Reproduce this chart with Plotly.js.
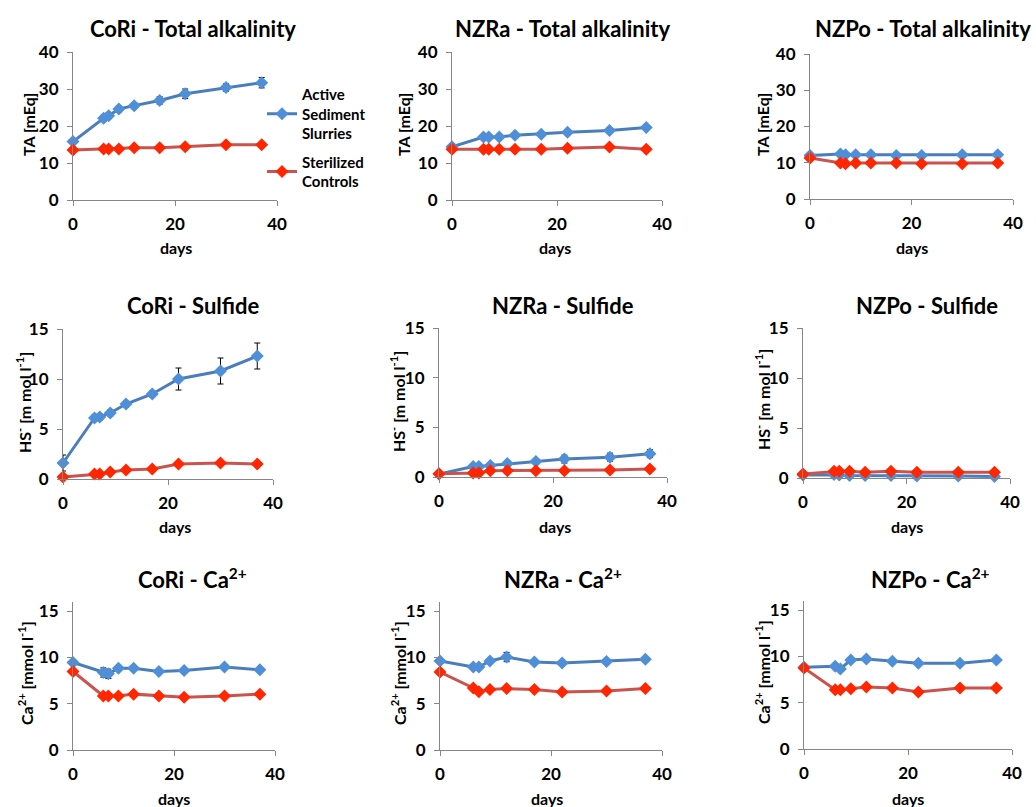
<!DOCTYPE html>
<html>
<head>
<meta charset="utf-8">
<script src="https://cdn.plot.ly/plotly-3.0.1.min.js"></script>
<style>html,body{margin:0;padding:0;background:#fff;}#chart{width:1036px;height:807px;}</style>
</head>
<body>
<div id="chart"></div>
<script>
// ---- data ----
var days = [0, 6, 7, 9, 12, 17, 22, 30, 37];

var coriTA_active      = [15.8, 22.1, 22.8, 24.6, 25.5, 26.9, 28.7, 30.4, 31.7];
var coriTA_active_err  = [0.5, 0.8, 0.8, 0.8, 0.8, 1.0, 1.3, 1.0, 1.4];
var coriTA_control     = [13.5, 13.8, 13.8, 13.8, 14.1, 14.1, 14.4, 14.9, 14.9];

var nzraTA_active      = [14.4, 17.0, 17.0, 17.0, 17.5, 17.8, 18.3, 18.8, 19.6];
var nzraTA_active_err  = [0.3, 0.4, 0.4, 0.3, 0.3, 0.3, 0.5, 0.3, 0.3];
var nzraTA_control     = [13.7, 13.7, 13.7, 13.7, 13.7, 13.7, 14.0, 14.3, 13.7];

var nzpoTA_active      = [12.0, 12.4, 12.2, 12.2, 12.2, 12.0, 12.0, 12.2, 12.2];
var nzpoTA_active_err  = [0.2, 0.2, 0.2, 0.2, 0.2, 0.2, 0.2, 0.2, 0.2];
var nzpoTA_control     = [11.3, 9.9, 9.7, 9.9, 9.9, 9.9, 9.7, 9.7, 9.9];

var coriHS_active      = [1.6, 6.1, 6.2, 6.6, 7.5, 8.5, 10.0, 10.8, 12.3];
var coriHS_active_err  = [0.8, 0.3, 0.3, 0.3, 0.3, 0.3, 1.1, 1.3, 1.3];
var coriHS_control     = [0.2, 0.5, 0.5, 0.7, 0.9, 1.0, 1.5, 1.6, 1.5];

var nzraHS_active      = [0.3, 1.05, 1.05, 1.15, 1.35, 1.55, 1.8, 2.0, 2.35];
var nzraHS_active_err  = [0.1, 0.2, 0.2, 0.2, 0.2, 0.2, 0.4, 0.4, 0.4];
var nzraHS_control     = [0.33, 0.4, 0.4, 0.64, 0.64, 0.64, 0.64, 0.7, 0.8];

var nzpoHS_active      = [0.3, 0.35, 0.3, 0.25, 0.25, 0.25, 0.2, 0.2, 0.15];
var nzpoHS_active_err  = [0.05, 0.05, 0.05, 0.05, 0.05, 0.05, 0.05, 0.05, 0.05];
var nzpoHS_control     = [0.4, 0.67, 0.67, 0.67, 0.57, 0.67, 0.57, 0.57, 0.57];

var coriCa_active      = [9.47, 8.38, 8.24, 8.85, 8.85, 8.49, 8.6, 8.96, 8.67];
var coriCa_active_err  = [0.1, 0.5, 0.5, 0.1, 0.1, 0.1, 0.1, 0.1, 0.1];
var coriCa_control     = [8.49, 5.85, 5.85, 5.85, 6.04, 5.85, 5.71, 5.85, 6.04];

var nzraCa_active      = [9.62, 8.97, 8.97, 9.62, 10.05, 9.51, 9.4, 9.58, 9.8];
var nzraCa_active_err  = [0.1, 0.1, 0.1, 0.1, 0.5, 0.1, 0.1, 0.1, 0.1];
var nzraCa_control     = [8.43, 6.71, 6.3, 6.53, 6.64, 6.53, 6.28, 6.39, 6.64];

var nzpoCa_active      = [8.84, 8.95, 8.66, 9.63, 9.74, 9.49, 9.27, 9.27, 9.63];
var nzpoCa_active_err  = [0.1, 0.1, 0.1, 0.1, 0.1, 0.1, 0.1, 0.1, 0.1];
var nzpoCa_control     = [8.77, 6.41, 6.41, 6.52, 6.7, 6.59, 6.16, 6.59, 6.59];

var panelTitles = [
  "CoRi - Total alkalinity", "NZRa - Total alkalinity", "NZPo - Total alkalinity",
  "CoRi - Sulfide", "NZRa - Sulfide", "NZPo - Sulfide",
  "CoRi - Ca<sup>2+</sup>", "NZRa - Ca<sup>2+</sup>", "NZPo - Ca<sup>2+</sup>"
];
var yTitles = [
  "TA [mEq]", "TA [mEq]", "TA [mEq]",
  "HS<sup>-</sup> [m mol l<sup>-1</sup>]", "HS<sup>-</sup> [m mol l<sup>-1</sup>]", "HS<sup>-</sup> [m mol l<sup>-1</sup>]",
  "Ca<sup>2+</sup> [mmol l<sup>-1</sup>]", "Ca<sup>2+</sup> [mmol l<sup>-1</sup>]", "Ca<sup>2+</sup> [mmol l<sup>-1</sup>]"
];
var xTitle = "days";
var seriesNames = ["Active<br>Sediment<br>Slurries", "Sterilized<br>Controls"];
var xTicks = [0, 20, 40];
var yTicksTA = [0, 10, 20, 30, 40];
var yTicksHS = [0, 5, 10, 15];
var yTicksCa = [0, 5, 10, 15];

var activeSets  = [coriTA_active, nzraTA_active, nzpoTA_active, coriHS_active, nzraHS_active, nzpoHS_active, coriCa_active, nzraCa_active, nzpoCa_active];
var activeErrs  = [coriTA_active_err, nzraTA_active_err, nzpoTA_active_err, coriHS_active_err, nzraHS_active_err, nzpoHS_active_err, coriCa_active_err, nzraCa_active_err, nzpoCa_active_err];
var controlSets = [coriTA_control, nzraTA_control, nzpoTA_control, coriHS_control, nzraHS_control, nzpoHS_control, coriCa_control, nzraCa_control, nzpoCa_control];

// ---- layout geometry (pixels) ----
var W = 1036, H = 807;
// [x0, x1, yTop, yBottom]
var boxes = [
  [73, 277, 52, 200], [452, 662, 52, 200], [810, 1013, 54, 199],
  [63, 273, 329, 479], [439, 667, 328, 477], [803, 1010, 328, 478],
  [73, 275, 602, 750], [440, 662, 602, 750], [804, 1012, 601, 749]
];
var yRanges = [[0,40],[0,40],[0,40],[0,15],[0,15],[0,15],[0,16],[0,16],[0,16]];
var yTickSets = [yTicksTA, yTicksTA, yTicksTA, yTicksHS, yTicksHS, yTicksHS, yTicksCa, yTicksCa, yTicksCa];
var titlePos = [[193,28],[563,28],[923,28],[193,305],[563,305],[927,305],[192,578],[563,578],[930,578]];
var daysPos = [[176,248],[555,248],[912,247],[175,526],[555,526],[907,526],[174,798],[547,798],[908,798]];
var yTitlePos = [[28,125],[403,125],[762,125],[23,403],[397,402],[762,400],[25,673],[398,673],[762,672]];

var font = "Lato, 'Open Sans', sans-serif";
var blueLine = "#4a7ebb", blueMarker = "#4f8fd8";
var redLine = "#c9534f", redMarker = "#ff2600";

var traces = [];
var layout = {
  width: W, height: H,
  margin: {l: 0, r: 0, t: 0, b: 0},
  paper_bgcolor: "#ffffff", plot_bgcolor: "#ffffff",
  font: {family: font, color: "#000", size: 13},
  showlegend: true,
  legend: {
    x: 262 / W, y: 1 - 78 / H, xanchor: "left", yanchor: "top",
    font: {family: font, size: 15, color: "#000", weight: "bold"},
    bgcolor: "rgba(0,0,0,0)", traceorder: "grouped", tracegroupgap: 6,
    itemwidth: 30
  },
  annotations: []
};

for (var i = 0; i < 9; i++) {
  var sfx = i === 0 ? "" : String(i + 1);
  var b = boxes[i];
  layout["xaxis" + sfx] = {
    domain: [b[0] / W, b[1] / W], range: [0, 40], anchor: "y" + sfx,
    tickvals: xTicks, ticks: "outside", ticklen: 5, tickcolor: "#868686",
    showline: true, linecolor: "#868686", linewidth: 1, showgrid: false, zeroline: false,
    tickfont: {family: font, size: 17, weight: "bold", color: "#000"}, fixedrange: true,
    ticklabelstandoff: 4
  };
  layout["yaxis" + sfx] = {
    domain: [1 - b[3] / H, 1 - b[2] / H], range: yRanges[i], anchor: "x" + sfx,
    tickvals: yTickSets[i], ticks: "outside", ticklen: 5, tickcolor: "#868686",
    showline: true, linecolor: "#868686", linewidth: 1, showgrid: false, zeroline: false,
    tickfont: {family: font, size: 17, weight: "bold", color: "#000"}, fixedrange: true,
    ticklabelstandoff: 5
  };
  traces.push({
    x: days, y: activeSets[i], type: "scatter", mode: "lines+markers",
    xaxis: "x" + sfx, yaxis: "y" + sfx,
    name: seriesNames[0], legendgroup: "a", showlegend: i === 0, cliponaxis: false,
    line: {color: blueLine, width: 3},
    marker: {symbol: "diamond", size: 10, color: blueMarker},
    error_y: {type: "data", array: activeErrs[i], visible: true, color: "#000", thickness: 1, width: 3}
  });
  traces.push({
    x: days, y: controlSets[i], type: "scatter", mode: "lines+markers",
    xaxis: "x" + sfx, yaxis: "y" + sfx,
    name: seriesNames[1], legendgroup: "c", showlegend: i === 0, cliponaxis: false,
    line: {color: redLine, width: 3},
    marker: {symbol: "diamond", size: 10, color: redMarker}
  });
  layout.annotations.push({
    text: panelTitles[i], x: titlePos[i][0] / W, y: 1 - titlePos[i][1] / H,
    xref: "paper", yref: "paper", showarrow: false, xanchor: "center", yanchor: "middle",
    font: {family: font, size: 22, weight: "bold", color: "#000"}
  });
  layout.annotations.push({
    text: xTitle, x: daysPos[i][0] / W, y: 1 - daysPos[i][1] / H,
    xref: "paper", yref: "paper", showarrow: false, xanchor: "center", yanchor: "middle",
    font: {family: font, size: 16, weight: "bold", color: "#000"}
  });
  layout.annotations.push({
    text: yTitles[i], x: yTitlePos[i][0] / W, y: 1 - yTitlePos[i][1] / H,
    xref: "paper", yref: "paper", showarrow: false, xanchor: "center", yanchor: "middle",
    textangle: -90,
    font: {family: font, size: 16, weight: "bold", color: "#000"}
  });
}

Plotly.newPlot("chart", traces, layout, {displayModeBar: false, staticPlot: true});
</script>
</body>
</html>
